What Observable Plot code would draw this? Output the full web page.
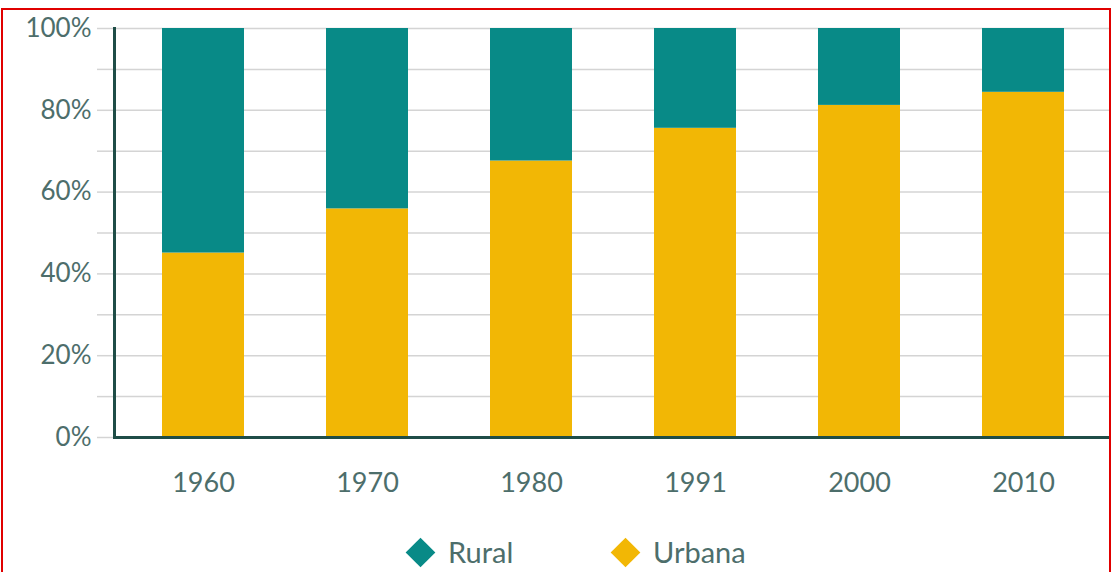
<!DOCTYPE html>
<html>
<head>
<meta charset="utf-8">
<script src="https://cdn.jsdelivr.net/npm/d3@7"></script>
<script src="https://cdn.jsdelivr.net/npm/@observablehq/plot@0.6"></script>
<style>
  html, body { margin: 0; padding: 0; background: #fff; overflow: hidden; }
  #wrap { position: relative; width: 1115px; height: 572px; font-family: Lato, "Open Sans", sans-serif; }
  #chart { position: absolute; left: 0; top: 0; }
  #border { position: absolute; left: 1px; top: 8px; width: 1110px; height: 600px; border: 2px solid #e00000; box-sizing: border-box; pointer-events: none; }
  #legend { position: absolute; top: 0; left: 0; width: 1115px; height: 572px; font-size: 29px; color: #4d6e6b; pointer-events: none; }
  .dia { position: absolute; width: 21px; height: 21px; transform: rotate(45deg); }
  .lab { position: absolute; line-height: 1; }
</style>
</head>
<body>
<div id="wrap">
  <div id="chart"></div>
  <div id="legend"></div>
  <div id="border"></div>
</div>
<script>
const years = ["1960", "1970", "1980", "1991", "2000", "2010"];
const urbana = [45.1, 55.9, 67.6, 75.6, 81.2, 84.4];
const rural = [54.9, 44.1, 32.4, 24.4, 18.8, 15.6];
const seriesNames = ["Urbana", "Rural"];
const seriesColors = ["#f2b705", "#088a87"];
const yTickLabels = [0, 20, 40, 60, 80, 100];
const gridTicks = [0, 10, 20, 30, 40, 50, 60, 70, 80, 90, 100];

const rows = [];
years.forEach((y, i) => rows.push({year: y, serie: "Urbana", value: urbana[i]}));
years.forEach((y, i) => rows.push({year: y, serie: "Rural", value: rural[i]}));

const textColor = "#4d6e6b";
const axisColor = "#1f4d47";

const chart = Plot.plot({
  width: 1115,
  height: 520,
  marginTop: 28,
  marginBottom: 83,
  marginLeft: 114,
  marginRight: 4,
  style: {fontFamily: "Lato, 'Open Sans', sans-serif", background: "transparent"},
  x: {domain: years, paddingInner: 0.5, paddingOuter: 0.287, label: null},
  y: {domain: [0, 100], label: null},
  color: {domain: seriesNames, range: seriesColors},
  marks: [
    Plot.gridY(gridTicks, {stroke: "#d4d4d4", strokeOpacity: 1, strokeWidth: 1.5}),
    Plot.axisY(gridTicks, {tickSize: 17, stroke: "#d4d4d4", strokeWidth: 1.5, text: null}),
    Plot.axisY(yTickLabels, {tickSize: 0, tickPadding: 23, tickFormat: d => d + "%", fill: textColor, fontSize: 26, label: null}),
    Plot.barY(rows, {x: "year", y: "value", fill: "serie"}),
    Plot.axisX({tickSize: 0, tickPadding: 35, fill: textColor, fontSize: 27, label: null}),
    Plot.ruleY([0], {stroke: axisColor, strokeWidth: 3}),
    Plot.frame({anchor: "left", stroke: axisColor, strokeWidth: 3})
  ]
});
document.getElementById("chart").appendChild(chart);

const legend = document.getElementById("legend");
const legendItems = [["Rural", "#088a87", 420, 448], ["Urbana", "#f2b705", 625, 653]];
legendItems.forEach(([name, color, cx, tx]) => {
  const d = document.createElement("div");
  d.className = "dia";
  d.style.background = color;
  d.style.left = (cx - 10.5) + "px";
  d.style.top = (552 - 10.5) + "px";
  const t = document.createElement("span");
  t.className = "lab";
  t.textContent = name;
  t.style.left = tx + "px";
  t.style.top = "537px";
  legend.appendChild(d);
  legend.appendChild(t);
});
</script>
</body>
</html>
